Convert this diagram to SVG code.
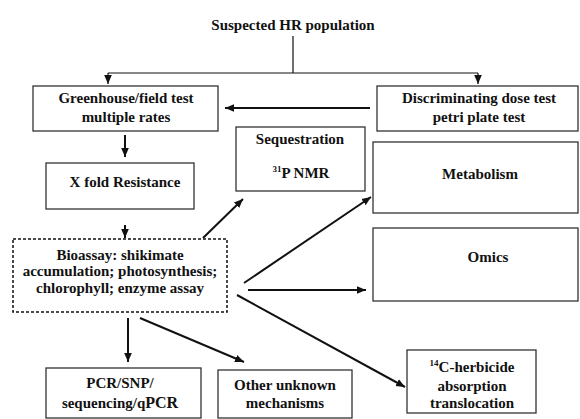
<svg xmlns="http://www.w3.org/2000/svg" width="580" height="419" viewBox="0 0 580 419">
<style>
text{font-family:"Liberation Serif","Times New Roman",serif;font-weight:bold;font-size:15px;fill:#111;text-anchor:middle}
.box{fill:#fff;stroke:#333;stroke-width:1.3}
.dash{fill:#fff;stroke:#111;stroke-width:1.5;stroke-dasharray:3 2}
.thin{fill:none;stroke:#111;stroke-width:1.2}
.arr{fill:none;stroke:#111;stroke-width:2;marker-end:url(#ah)}
.arrt{fill:none;stroke:#111;stroke-width:1.2;marker-end:url(#ah)}
.sup{font-size:9px}
</style>
<defs>
<marker id="ah" markerUnits="userSpaceOnUse" markerWidth="10" markerHeight="10" viewBox="0 0 10 10" refX="9" refY="5" orient="auto">
<path d="M0,1.2 L9,5 L0,8.8 Z" fill="#111"/>
</marker>
</defs>
<g id="title"><text x="293" y="30">Suspected HR population</text></g>
<g id="greenhouse"><rect class="box" x="33" y="86" width="185" height="45"/><text x="126" y="103">Greenhouse/field test</text><text x="126" y="122">multiple rates</text></g>
<g id="discriminating"><rect class="box" x="377" y="86" width="201" height="45"/><text x="479" y="103">Discriminating dose test</text><text x="479" y="122">petri plate test</text></g>
<g id="sequestration"><rect class="box" x="236" y="127" width="129" height="64"/><text x="300" y="144">Sequestration</text><text x="301" y="178"><tspan class="sup" dy="-6">31</tspan><tspan dy="6">P NMR</tspan></text></g>
<g id="xfold"><rect class="box" x="46" y="163" width="148" height="46"/><text x="125" y="187">X fold Resistance</text></g>
<g id="metabolism"><rect class="box" x="373" y="142" width="205" height="71"/><text x="480" y="179">Metabolism</text></g>
<g id="omics"><rect class="box" x="373" y="228" width="205" height="73"/><text x="488" y="262">Omics</text></g>
<g id="bioassay"><rect class="dash" x="13" y="239" width="214" height="73"/><text x="120" y="260">Bioassay: shikimate</text><text x="120" y="276">accumulation; photosynthesis;</text><text x="120" y="293">chlorophyll; enzyme assay</text></g>
<g id="pcr"><rect class="box" x="46" y="368" width="155" height="50"/><text x="120" y="388">PCR/SNP/</text><text x="120" y="408">sequencing/q<tspan font-size="16">PCR</tspan></text></g>
<g id="other"><rect class="box" x="218" y="370" width="134" height="48"/><text x="285" y="390">Other unknown</text><text x="285" y="408">mechanisms</text></g>
<g id="c14"><rect class="box" x="407" y="350" width="129" height="63"/><text x="472" y="372"><tspan class="sup" dy="-6">14</tspan><tspan dy="6">C-herbicide</tspan></text><text x="472" y="391">absorption</text><text x="472" y="408">translocation</text></g>
<g id="connectors">
<path class="thin" d="M293,36 V73 M108,73 H478"/>
<path class="arrt" d="M108,73 V84"/>
<path class="arrt" d="M478,73 V84"/>
<path class="arr" d="M370,108 H225"/>
<path class="arr" d="M125,135 V157"/>
<path class="arr" d="M125,225 V238"/>
<path class="arr" d="M203,238 L243,199"/>
<path class="arr" d="M244,283 L371,197"/>
<path class="arr" d="M248,290 H366"/>
<path class="arr" d="M237,295 L405,387"/>
<path class="arr" d="M128,318 V362"/>
<path class="arr" d="M140,318 L244,362"/>
</g>
</svg>
